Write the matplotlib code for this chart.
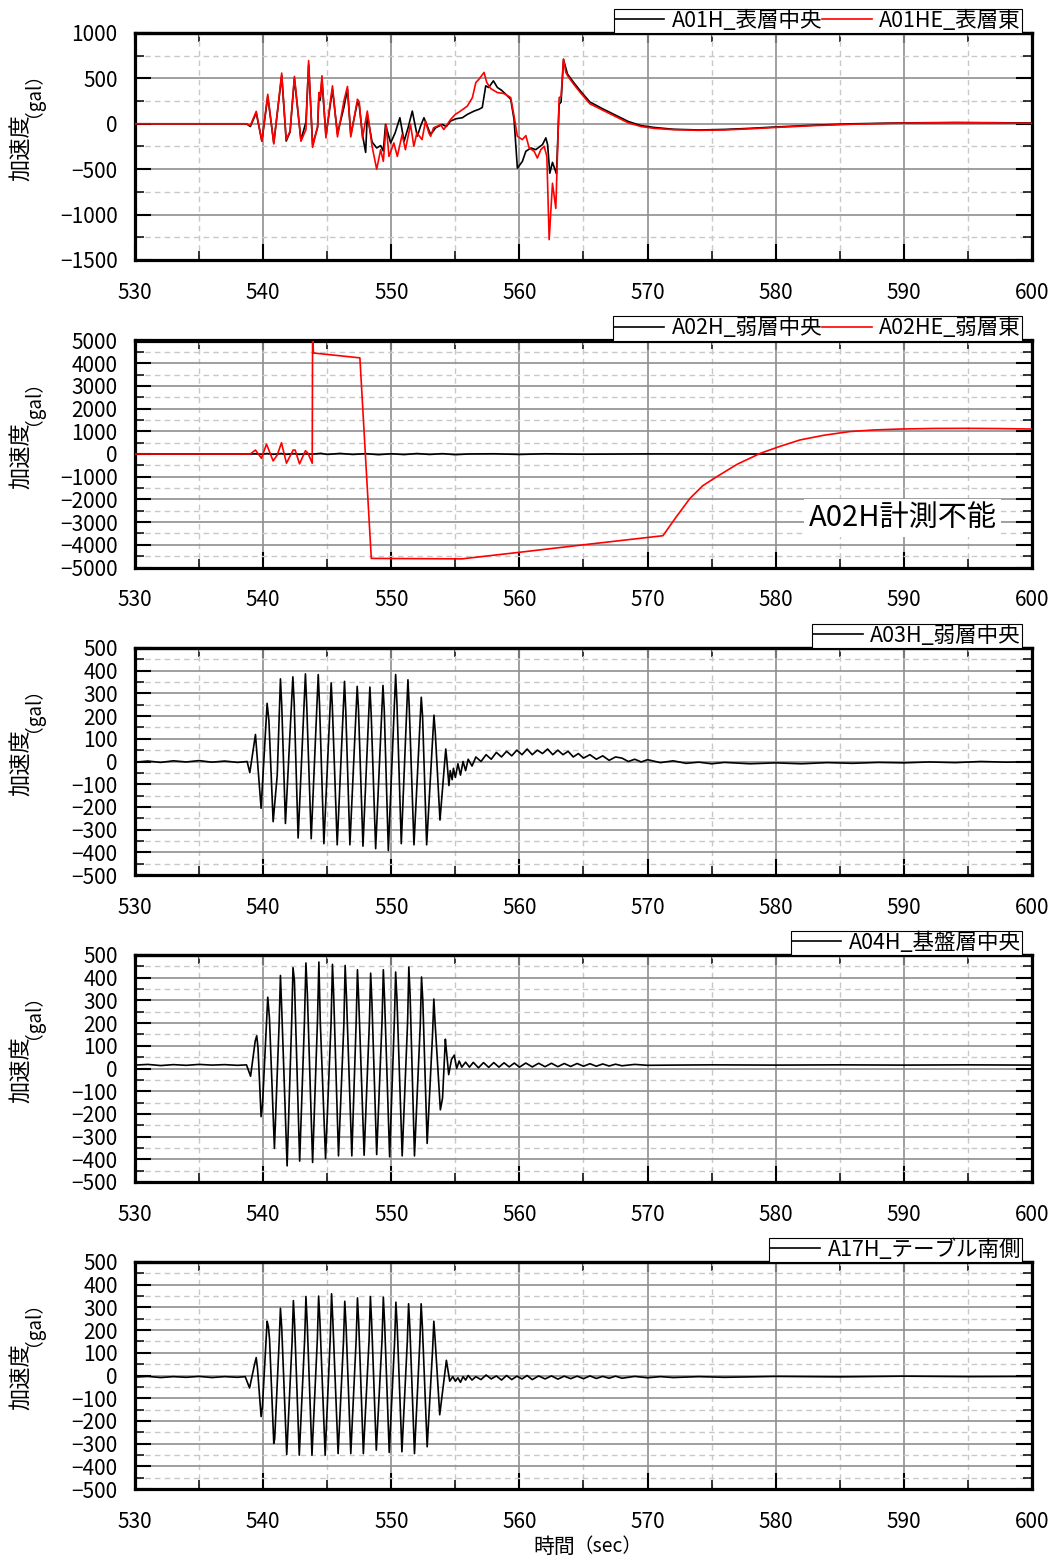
import matplotlib
matplotlib.use("Agg")
import matplotlib.pyplot as plt
from matplotlib.ticker import MultipleLocator

plt.rcParams['font.family'] = ['Noto Sans CJK JP', 'DejaVu Sans']
plt.rcParams['axes.unicode_minus'] = True

# ---------------- data ----------------
# Panel 1: A01H (black) and A01HE (red)
a01h_t = [530, 538.7, 539.0, 539.46, 539.9, 540.36, 540.83, 541.45, 541.8, 542.1, 542.44, 542.95, 543.34,
          543.55, 543.86, 544.25, 544.35, 544.45, 544.59, 544.9, 545.23, 545.41, 545.8, 546.3, 546.58, 546.84,
          547.36, 547.5, 547.75, 548.0, 548.13, 548.5, 548.86, 549.17, 549.38, 549.55, 549.95, 550.3, 550.67,
          551.0, 551.3, 551.64, 552.03, 552.3, 552.55, 553.07, 553.46, 553.98, 554.3, 554.63, 555.03, 555.55,
          555.94, 556.46, 556.85, 557.1, 557.37, 557.6, 557.97, 558.28, 558.6, 558.93, 559.32, 559.58, 559.84,
          560.23, 560.5, 560.9, 561.27, 561.8, 562.06, 562.2, 562.37, 562.58, 562.89, 563.1, 563.25, 563.44,
          563.75, 564.23, 564.75, 565.5, 566.5, 567.5, 568.5, 569.5, 570.5, 572, 574, 576, 578, 580, 583, 586,
          590, 594, 597, 600]
a01h_v = [0, 0, -30, 120, -190, 300, -210, 530, -190, -90, 500, -180, 20,
          650, -230, -40, 300, 260, 480, -130, 200, 380, -110, 180, 380, -120,
          240, 200, -120, -315, 100, -200, -266, -240, -300, -7, -211, -100, 67,
          -192, -50, 140, -137, -20, 67, -118, -44, -7, -30, 30, 55, 67,
          104, 140, 160, 180, 418, 400, 473, 400, 370, 326, 270, 48, -488,
          -414, -303, -266, -285, -229, -155, -230, -544, -425, -551, 215, 240, 707,
          548, 455, 363, 240, 165, 95, 25, -20, -40, -60, -68, -62, -50, -35, -15, 0,
          10, 14, 12, 8]

a01he_t = [530, 538.7, 539.0, 539.46, 539.9, 540.36, 540.83, 541.45, 541.8, 542.1, 542.44, 542.95, 543.34,
           543.55, 543.86, 544.25, 544.35, 544.45, 544.59, 544.9, 545.23, 545.41, 545.8, 546.3, 546.58, 546.84,
           547.36, 547.5, 547.75, 548.13, 548.5, 548.86, 549.17, 549.38, 549.6, 549.82, 550.2, 550.47, 550.85,
           551.1, 551.5, 551.76, 552.0, 552.4, 552.67, 552.93, 553.07, 553.3, 553.6, 553.83, 554.1, 554.63,
           555.0, 555.4, 555.94, 556.33, 556.6, 556.85, 557.24, 557.45, 557.76, 558.28, 558.8, 559.32, 559.58,
           559.84, 560.23, 560.5, 560.76, 561.15, 561.4, 561.67, 561.93, 562.14, 562.32, 562.58, 562.84, 563.1,
           563.25, 563.44, 563.62, 563.8, 564.23, 564.75, 565.5, 566.5, 567.5, 568.5, 569.5, 570.5, 572, 574,
           576, 578, 580, 583, 586, 590, 594, 597, 600]
a01he_v = [0, 0, -20, 137, -192, 325, -222, 559, -174, -81, 522, -192, -63,
           696, -259, -26, 344, 300, 529, -155, 233, 418, -144, 250, 411, -144,
           270, 240, -155, 140, -248, -500, -285, -414, -7, -359, -211, -359, -118,
           -285, -7, -248, -100, -174, 30, -100, -137, -44, -26, -7, -63, 48,
           104, 140, 196, 289, 455, 492, 566, 455, 388, 344, 333, 289, 85,
           -137, -174, -130, -266, -303, -377, -285, -248, -359, -1276, -655, -932, 289,
           300, 714, 566, 520, 437, 344, 220, 150, 80, 10, -30, -50, -65, -72,
           -68, -55, -40, -20, -5, 8, 12, 10, 5]

# Panel 2: A02H (black) and A02HE (red)
a02h_t = [530, 539, 539.4, 539.9, 540.3, 540.8, 541.4, 541.8, 542.4, 542.8, 543.3, 543.8, 544.5, 545, 546,
          547, 548, 549, 550, 551, 552, 553, 554, 555, 556, 558, 560, 562, 565, 570, 580, 590, 600]
a02h_v = [0, 0, 10, -15, 20, -15, 20, -15, 15, -15, 10, -10, 30, -20, 25,
          -20, 15, -30, 10, -25, 20, -20, 15, -30, 0, 10, -20, 10, -10, 5, -5, 0, 0]

a02he_t = [530, 539.0, 539.4, 539.87, 540.26, 540.78, 541.1, 541.43, 541.82, 542.34, 542.5, 542.84, 543.3,
           543.5, 543.83, 543.86, 543.92, 547.55, 548.44, 555.5, 560, 565, 571.2, 572.2, 573.3, 574.3, 575.4,
           577, 578.8, 580.3, 581.9, 583.8, 585.8, 587.7, 589.7, 592.3, 594.9, 597.5, 600]
a02he_v = [0, 0, 174, -190, 435, -305, -44, 493, -406, 174, 174, -435, 145,
           30, -406, 5600, 4450, 4235, -4600, -4620, -4330, -4000, -3600, -2800, -1960, -1400, -1000,
           -450, 30, 330, 620, 830, 990, 1060, 1100, 1125, 1130, 1120, 1100]

# Panel 3: A03H
a03h_t = [530, 531, 532, 533, 534, 535, 536, 537, 538, 538.75, 538.96, 539.4, 539.84, 540.31, 540.45, 540.78,
          541.1, 541.35, 541.45, 541.74, 542.32, 542.42, 542.73, 543.3, 543.4, 543.75, 544.3, 544.4, 544.74,
          545.31, 545.4, 545.78, 546.35, 546.45, 546.77, 547.34, 547.44, 547.79, 548.33, 548.43, 548.78,
          549.35, 549.45, 549.77, 550.34, 550.44, 550.78, 551.3, 551.4, 551.77, 552.34, 552.44, 552.76,
          553.33, 553.43, 553.8, 554.25, 554.33, 554.5, 554.6, 554.75, 554.85, 555.0, 555.2, 555.4, 555.6,
          555.8, 556.0, 556.3, 556.6, 557, 557.4, 557.8, 558.2, 558.6, 559, 559.4, 559.8, 560.2, 560.6, 561,
          561.4, 561.8, 562.2, 562.6, 563, 563.4, 563.8, 564.2, 564.6, 565, 565.5, 566, 566.5, 567, 567.5,
          568, 568.5, 569, 569.5, 570, 571, 572, 573, 574, 575, 576, 578, 580, 582, 584, 586, 588, 590, 592,
          594, 596, 598, 600]
a03h_v = [-3, 2, -4, 3, -2, 4, -3, 2, -4, 0, -49, 119, -206, 256, 180, -265,
          -60, 364, 250, -273, 373, 260, -337, 386, 250, -340, 383, 250, -362,
          346, 240, -367, 353, 220, -367, 331, 230, -373, 328, 210, -384,
          335, 230, -392, 383, 260, -362, 360, 240, -367, 283, 200, -367,
          204, 130, -258, 55, 10, -106, -40, -80, -30, -70, -10, -60, 0,
          -40, 10, -20, 20, 0, 30, 10, 40, 20, 45, 25, 50, 30, 55, 30,
          50, 35, 55, 30, 50, 30, 45, 20, 35, 15, 30, 10, 25, 5, 20,
          15, 0, 10, -2, 8, -5, 3, -8, -3, -10, -4, -10, -6, -10, -5, -8, -4, -6, -2,
          -5, 0, -3, -1]

# Panel 4: A04H
a04h_t = [530, 531, 532, 533, 534, 535, 536, 537, 538, 538.7, 539.02, 539.38, 539.5, 539.6, 539.84, 539.95,
          540.36, 540.49, 540.88, 541.25, 541.35, 541.45, 541.87, 542.23, 542.33, 542.44, 542.85, 543.22,
          543.34, 543.45, 543.86, 544.24, 544.35, 544.46, 544.87, 545.3, 545.41, 545.5, 545.88, 546.3, 546.4,
          546.5, 546.92, 547.26, 547.36, 547.46, 547.88, 548.29, 548.39, 548.49, 548.86, 549.28, 549.38,
          549.48, 549.87, 550.24, 550.34, 550.44, 550.85, 551.27, 551.37, 551.47, 551.81, 552.26, 552.36,
          552.46, 552.8, 553.22, 553.32, 553.42, 553.83, 554.0, 554.22, 554.3, 554.48, 554.7, 554.92, 555.1,
          555.3, 555.5, 555.8, 556.1, 556.4, 556.8, 557.2, 557.6, 558, 558.4, 558.8, 559.2, 559.6, 560, 560.5,
          561, 561.5, 562, 562.5, 563, 563.5, 564, 564.5, 565, 565.5, 566, 566.5, 567, 567.5, 568, 569, 570,
          572, 575, 580, 585, 590, 595, 600]
a04h_v = [15, 18, 13, 17, 14, 18, 15, 17, 14, 16, -34, 121, 144, 90, -212, -160,
          314, 225, -352, 200, 410, 262, -429, 210, 444, 388, -408, 200,
          465, 330, -414, 210, 469, 203, -397, 200, 459, 330, -385, 195, 454,
          320, -385, 205, 435, 300, -382, 200, 420, 290, -379, 210, 435,
          300, -389, 210, 425, 310, -385, 200, 447, 320, -385, 190, 403,
          300, -330, 150, 306, 200, -182, -130, 129, 80, -27, 40, 59, 0,
          33, 6, 28, 6, 27, 3, 26, 5, 26, 6, 25, 7, 24, 6, 24,
          7, 23, 8, 23, 8, 22, 9, 22, 10, 21, 10, 20, 11, 19, 12, 18, 14,
          15, 16, 15, 16, 15, 16, 15]

# Panel 5: A17H
a17h_t = [530, 531, 532, 533, 534, 535, 536, 537, 538, 538.6, 538.94, 539.33, 539.46, 539.56, 539.84, 539.94,
          540.31, 540.41, 540.5, 540.83, 540.9, 541.25, 541.35, 541.45, 541.84, 542.26, 542.36, 542.46, 542.82,
          543.24, 543.34, 543.44, 543.81, 544.23, 544.33, 544.43, 544.84, 545.24, 545.34, 545.44, 545.85,
          546.27, 546.37, 546.47, 546.84, 547.26, 547.36, 547.46, 547.82, 548.27, 548.37, 548.47, 548.83,
          549.28, 549.38, 549.48, 549.84, 550.26, 550.36, 550.46, 550.83, 551.25, 551.35, 551.45, 551.81,
          552.23, 552.33, 552.43, 552.8, 553.22, 553.32, 553.42, 553.78, 554.3, 554.56, 554.8, 555, 555.2,
          555.4, 555.6, 555.8, 556, 556.3, 556.6, 557, 557.4, 557.8, 558.2, 558.6, 559, 559.4, 559.8, 560.2,
          560.6, 561, 561.5, 562, 562.5, 563, 563.5, 564, 564.5, 565, 565.5, 566, 566.5, 567, 567.5, 568, 569,
          570, 571, 572, 574, 576, 580, 585, 590, 595, 600]
a17h_v = [-7, -4, -9, -5, -8, -4, -9, -5, -8, -5, -55, 49, 79, 30, -181, -140,
          239, 215, 160, -299, -280, 150, 296, 210, -348, 150, 330, 220, -351,
          160, 348, 230, -351, 160, 350, 240, -351, 170, 360, 240, -344,
          150, 327, 220, -344, 160, 342, 230, -344, 160, 348, 230, -329,
          160, 345, 230, -339, 150, 323, 220, -336, 150, 316, 210, -344,
          150, 316, 210, -314, 110, 239, 160, -173, 67, -25, -5, -25, -10,
          -30, -5, -20, 0, -20, -5, -18, 2, -15, -2, -20, 0, -18, -3, -15,
          0, -18, -2, -15, -2, -16, -3, -14, -3, -14, -2, -13, -4, -12, -3, -12, -4,
          -10, -5, -9, -5, -8, -4, -6, -3, -5, -4]

x_ticks = [530, 540, 550, 560, 570, 580, 590, 600]

panels = [
    dict(series=[(a01h_t, a01h_v, 'black', 'A01H_表層中央'), (a01he_t, a01he_v, 'red', 'A01HE_表層東')],
         ylim=(-1500, 1000), major=500, minor=250),
    dict(series=[(a02h_t, a02h_v, 'black', 'A02H_弱層中央'), (a02he_t, a02he_v, 'red', 'A02HE_弱層東')],
         ylim=(-5000, 5000), major=1000, minor=500),
    dict(series=[(a03h_t, a03h_v, 'black', 'A03H_弱層中央')], ylim=(-500, 500), major=100, minor=50),
    dict(series=[(a04h_t, a04h_v, 'black', 'A04H_基盤層中央')], ylim=(-500, 500), major=100, minor=50),
    dict(series=[(a17h_t, a17h_v, 'black', 'A17H_テーブル南側')], ylim=(-500, 500), major=100, minor=50),
]

W, H = 1056, 1560
fig = plt.figure(figsize=(W / 100, H / 100), dpi=100)
tops = [33, 340.5, 648, 955, 1262]
ph = 227
left_px, width_px = 135, 897

for i, p in enumerate(panels):
    ax = fig.add_axes([left_px / W, 1 - (tops[i] + ph) / H, width_px / W, ph / H])
    for t, v, c, lab in p['series']:
        ax.plot(t, v, color=c, lw=1.2, label=lab, zorder=3)
    ax.set_xlim(530, 600)
    ax.set_ylim(*p['ylim'])
    ax.set_xticks(x_ticks)
    ax.xaxis.set_minor_locator(MultipleLocator(5))
    ax.yaxis.set_major_locator(MultipleLocator(p['major']))
    ax.yaxis.set_minor_locator(MultipleLocator(p['minor']))
    ax.set_axisbelow(True)
    ax.grid(which='major', color='#8f8f8f', lw=1.2, ls='-')
    ax.grid(which='minor', color='#c8c8c8', lw=1.0, ls=(0, (4, 3)))
    for s in ax.spines.values():
        s.set_linewidth(2.3)
    ax.tick_params(which='major', direction='in', length=11.5, width=1.5, labelsize=15,
                   right=True, top=False, color='black')
    ax.tick_params(which='minor', direction='in', length=6.5, width=1.1, right=True, top=False)
    ax.tick_params(axis='x', which='major', pad=15.5)
    ax.tick_params(axis='y', which='major', pad=12.5)
    sec = ax.secondary_xaxis('top')
    sec.set_xticks(x_ticks)
    sec.xaxis.set_minor_locator(MultipleLocator(5))
    sec.tick_params(which='major', direction='in', length=7.2, width=1.5, labeltop=False)
    sec.tick_params(which='minor', direction='in', length=6.5, width=1.1)
    sec.spines['top'].set_linewidth(2.3)

    ax.text(-0.126, 0.495, '加速度', rotation=90, ha='center', va='center', fontsize=16,
            transform=ax.transAxes)
    ax.text(-0.124, 0.77, '（gal）', rotation=90, ha='center', va='center', fontsize=13.5,
            transform=ax.transAxes)

    leg = ax.legend(loc='lower right', bbox_to_anchor=((1022 - left_px) / width_px, 1.0),
                    ncol=len(p['series']), fontsize=15.5, frameon=True, fancybox=False,
                    edgecolor='black', framealpha=1, borderpad=0.05, handlelength=2.3,
                    handletextpad=0.35, columnspacing=0.0, borderaxespad=0.0)
    leg.get_frame().set_linewidth(0.8)
    leg.set_zorder(10)

    if i == 1:
        ax.text(589.9, -2830, 'A02H計測不能', fontsize=21, ha='center', va='center', zorder=5,
                bbox=dict(facecolor='white', edgecolor='none', pad=3))
    if i == 4:
        ax.text(0.467, -0.2555, '時間', ha='center', va='center', fontsize=15, transform=ax.transAxes)
        ax.text(0.527, -0.2555, '（sec）', ha='center', va='center', fontsize=14, transform=ax.transAxes)

fig.savefig('out.png', dpi=100)
